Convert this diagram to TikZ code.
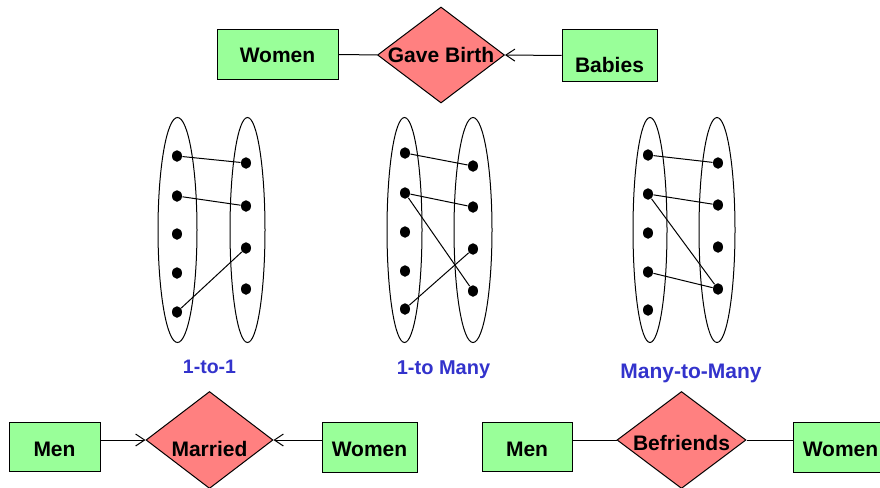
\documentclass[tikz,border=0pt]{standalone}
\usepackage{fontspec}
\setmainfont{Liberation Sans}
\usepackage{tikz}
\usetikzlibrary{shapes.geometric,arrows.meta}
\definecolor{entgreen}{RGB}{153,255,153}
\definecolor{relred}{RGB}{255,128,128}
\definecolor{mapblue}{RGB}{51,51,204}

\begin{document}
\begin{tikzpicture}[x=1pt,y=-1pt,line width=1pt,
    entity/.style={draw,fill=entgreen,inner sep=0pt,text height=#1,text depth=0pt,font=\fontsize{21}{25}\selectfont\bfseries},
    relation/.style={diamond,draw,fill=relred,inner sep=0pt,aspect=1.32,text height=#1,text depth=0pt,font=\fontsize{21}{25}\selectfont\bfseries},
    dot/.style={ellipse,fill=black,inner sep=0pt,minimum width=10pt,minimum height=11.5pt},
    maplabel/.style={anchor=base,text=mapblue,font=\fontsize{#1}{23}\selectfont\bfseries},
    arr/.style={-{Straight Barb[length=9pt,width=12pt]}}]
          \useasboundingbox (0,0) rectangle (880,487);
          % women / gave birth / babies
          \node[entity=17pt,minimum width=121pt,minimum height=49pt] (topwomen) at (277.5,54.5) {Women};
          \node[relation=15pt,minimum width=127pt,minimum height=96pt] (gavebirth) at (441,55) {Gave Birth};
          \node[entity=33pt,minimum width=95pt,minimum height=51pt] (babies) at (609.5,55.5) {Babies};
          \draw[-] (topwomen) -- (gavebirth);
          \draw[arr] (babies.west) -- (gavebirth.east);
          % 1-to-1
          \draw (177.5,230) ellipse [x radius=19.5pt, y radius=112.5pt];
          \draw (247.5,230) ellipse [x radius=17.5pt, y radius=112.5pt];
          \foreach \y [count=\i] in {156,196,234,273,312}
          {
          \node[dot] (a\i) at (177,\y) {};
          }
          \foreach \y [count=\i] in {163,206,248,289}
          {
          \node[dot] (b\i) at (246,\y) {};
          }
          \draw (a1) -- (b1);
          \draw (a2) -- (b2);
          \draw (a5) -- (b3);
          \node[maplabel=19.5] (one) at (209.5,373) {1-to-1};
          % 1-to many
          \draw (404.5,230) ellipse [x radius=17.5pt, y radius=112.5pt];
          \draw (473,230) ellipse [x radius=19pt, y radius=112.5pt];
          \foreach \y [count=\i] in {153,193,232,271,309}
          {
          \node[dot] (c\i) at (405,\y) {};
          }
          \foreach \y [count=\i] in {166,207,249,291}
          {
          \node[dot] (d\i) at (473,\y) {};
          }
          \draw (c1) -- (d1);
          \draw (c2) -- (d2);
          \draw (c2) -- (d4);
          \draw (c5) -- (d3);
          \node[maplabel=20] (onemany) at (443.5,374) {1-to Many};
          % many-to-many
          \draw (650,230) ellipse [x radius=17pt, y radius=112.5pt];
          \draw (717,230) ellipse [x radius=18pt, y radius=112.5pt];
          \foreach \y [count=\i] in {155,194,233,272,310}
          {
          \node[dot] (e\i) at (648,\y) {};
          }
          \foreach \y [count=\i] in {163,205,247,289}
          {
          \node[dot] (f\i) at (718,\y) {};
          }
          \draw (e1) -- (f1);
          \draw (e2) -- (f2);
          \draw (e2) -- (f4);
          \draw (e4) -- (f4);
          \node[maplabel=21] (manymany) at (691,378) {Many-to-Many};
          % men / married / women
          \node[entity=20pt,minimum width=91pt,minimum height=49pt] (mena) at (54.5,446.5) {Men};
          \node[relation=33pt,minimum width=127pt,minimum height=97pt] (married) at (209.5,440) {Married};
          \node[entity=19pt,minimum width=95pt,minimum height=50pt] (womena) at (369.5,447) {Women};
          \draw[arr] (mena.east |- married) -- (married.west);
          \draw[arr] (womena.west |- married) -- (married.east);
          % men / befriends / women
          \node[entity=20pt,minimum width=90pt,minimum height=49pt] (menb) at (527,446.5) {Men};
          \node[relation=20pt,minimum width=129pt,minimum height=97pt] (befriends) at (681.5,440) {Befriends};
          \node[entity=19pt,minimum width=95pt,minimum height=50pt] (womenb) at (840.5,447) {Women};
          \draw[-] (menb.east |- befriends) -- (befriends.west);
          \draw[-] (befriends.east) -- (womenb.west |- befriends);
        \end{tikzpicture}
\end{document}
